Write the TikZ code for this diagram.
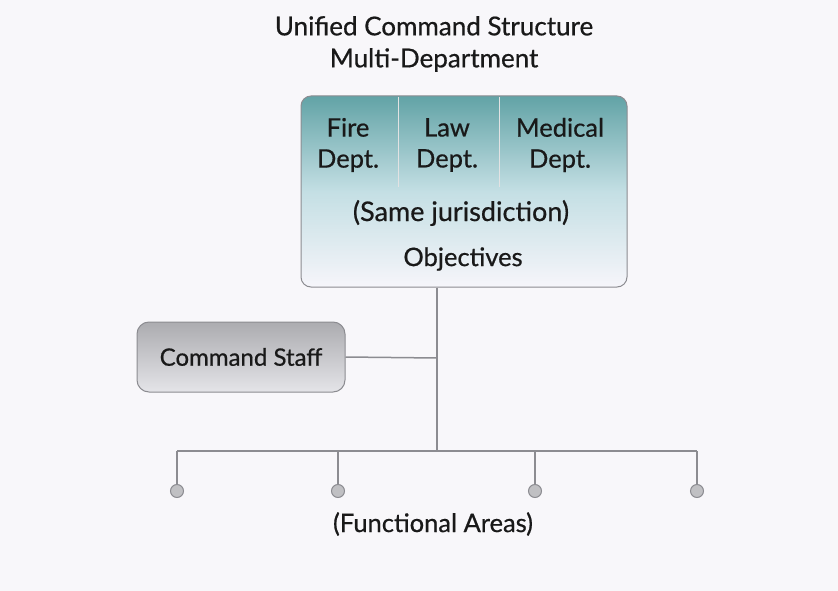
\documentclass[tikz,border=0pt]{standalone}
\usepackage{fontspec}
\setmainfont[FakeBold=0.6]{Lato}
\usetikzlibrary{positioning}
\definecolor{paper}{RGB}{248,247,250}
\definecolor{wire}{RGB}{140,140,145}
\definecolor{tealtop}{RGB}{98,163,166}
\definecolor{tealmid}{RGB}{196,223,228}
\definecolor{tealbot}{RGB}{246,245,250}
\definecolor{greytop}{RGB}{172,172,176}
\definecolor{greybot}{RGB}{228,228,232}
\begin{document}
\begin{tikzpicture}[x=1pt, y=1pt, auto,
        bigtext/.style={align=center, text=black!90, font=\fontsize{25.5}{31}\selectfont},
        wirel/.style={draw=wire, line width=1.5pt},
        area/.style={circle, draw=wire, fill=wire!55, line width=1pt, minimum size=13pt, inner sep=0pt}]
        \fill [paper] (0,0) rectangle (838,-591);
        \useasboundingbox (0,0) rectangle (838,-591);
        \node (title) [align=center, text=black!90, font=\fontsize{26}{32}\selectfont] at (434,-44) {Unified Command Structure\\Multi-Department};
        \node (depts) [rectangle, draw=wire, line width=1pt, rounded corners=10pt, minimum width=326pt, minimum height=191pt, top color=tealtop, bottom color=tealbot, middle color=tealmid] at (464,-191.5) {};
        \coordinate (d1top) at (398,-97);
        \coordinate (d1bot) at (398,-187);
        \coordinate (d2top) at (499,-97);
        \coordinate (d2bot) at (499,-187);
        \draw [white!75!wire, line width=1pt] (d1top) -- (d1bot);
        \draw [white!75!wire, line width=1pt] (d2top) -- (d2bot);
        \node (fire) [bigtext] at (348,-145) {Fire\\Dept.};
        \node (law) [bigtext] at (447,-145) {Law\\Dept.};
        \node (medical) [bigtext] at (560,-145) {Medical\\Dept.};
        \node (same) [bigtext, font=\fontsize{27}{31}\selectfont] at (461,-213) {(Same jurisdiction)};
        \node (objectives) [bigtext] at (463,-259) {Objectives};
        \node (staff) [rectangle, draw=wire, line width=1pt, rounded corners=12pt, minimum width=208pt, minimum height=70pt, top color=greytop, bottom color=greybot, text=black!90, font=\fontsize{24}{28}\selectfont] at (241,-357) {Command Staff};
        \coordinate (jstaff) at (437,-358);
        \coordinate (jbus) at (437,-451);
        \coordinate (b1) at (177,-451);
        \coordinate (b2) at (338,-451);
        \coordinate (b3) at (535,-451);
        \coordinate (b4) at (697,-451);
        \node (c1) [area] at (177,-491) {};
        \node (c2) [area] at (338,-491) {};
        \node (c3) [area] at (535,-491) {};
        \node (c4) [area] at (697,-491) {};
        \node (functional) [bigtext] at (433,-524) {(Functional Areas)};

        \draw [wirel] (depts.south -| jbus) -- (jbus);
        \draw [wirel] (staff.east) -- (jstaff);
        \draw [wirel] (b1) -- (b4);
        \foreach \i in {1,...,4}
            \draw [wirel] (b\i) -- (c\i);
    \end{tikzpicture}
\end{document}
